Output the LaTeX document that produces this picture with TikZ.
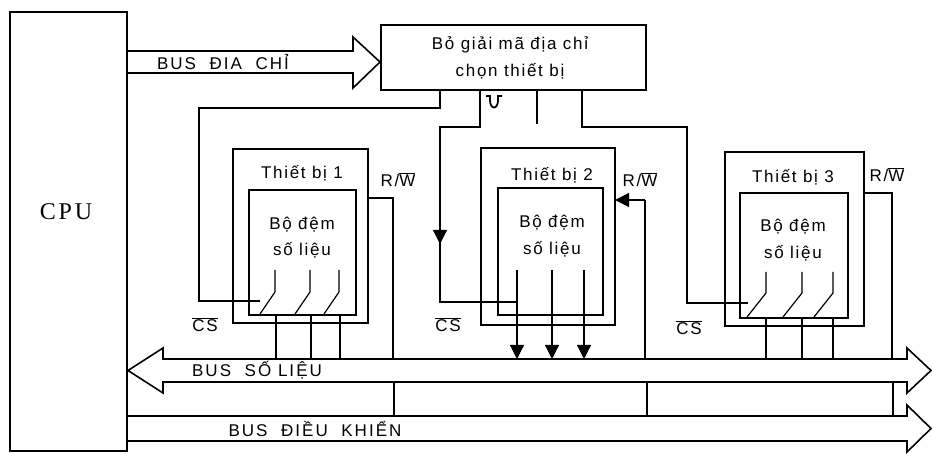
\documentclass[tikz,border=0pt]{standalone}
\usepackage{fontspec}
\setmainfont{Liberation Sans}[LetterSpace=10]
\newfontfamily\cpufont{Liberation Serif}[LetterSpace=12]
\usetikzlibrary{arrows.meta}
\begin{document}
\begin{tikzpicture}[x=1pt,y=-1pt,
  wire/.style={line width=1.2pt},
  busline/.style={line width=1.6pt, line join=miter},
  outerbox/.style={draw, line width=2.2pt},
  innerbox/.style={draw, line width=1.4pt},
  lbl/.style={font=\fontsize{17}{20}\selectfont, inner sep=0pt},
  buslbl/.style={font=\fontsize{17}{20}\selectfont\addfontfeature{LetterSpace=12}, inner sep=0pt},
  tip/.style={-{Triangle[width=14pt,length=14pt]}}]
\useasboundingbox (0,0) rectangle (932,454);
% CPU
\draw[line width=1.5pt] (10,12) rectangle (127,451);
\node[font=\cpufont\fontsize{24}{28}\selectfont, inner sep=0pt] (cpu) at (66,212) {CPU};
% decoder
\draw[line width=2pt] (381,25) rectangle (646,90);
\node[lbl] (dec1) at (510,45) {Bỏ giải mã địa chỉ};
\node[lbl] (dec2) at (510,71) {chọn thiết bị};
% buses
\draw[busline] (127,51) -- (353,51) -- (353,37) -- (380,62) -- (353,88) -- (353,73) -- (127,73);
\node[buslbl] (abus) at (223,62) {BUS~~ĐIA~~CHỈ};
\draw[busline] (128,370.5) -- (163,348) -- (163,359) -- (907,359) -- (907,348) -- (931,370.5)
  -- (907,393) -- (907,382) -- (163,382) -- (163,393) -- cycle;
\node[buslbl] (dbus) at (257,370.5) {BUS~~SỐ LIỆU};
\draw[busline] (127,416) -- (907,416) -- (907,405) -- (931,428.5) -- (907,452) -- (907,441) -- (127,441);
\node[buslbl] (cbus) at (315,429) {BUS~~ĐIỀU~~KHIỂN};
% device 1
\draw[outerbox] (233,149) rectangle (368,323);
\draw[innerbox] (249,190) rectangle (356,315);
\node[lbl] (t1) at (302,173) {Thiết bị 1};
\node[lbl] (b1) at (302,225) {Bộ đệm};
\node[lbl] (s1) at (302,250) {số liệu};
\foreach \xs in {275,310,339}{
  \draw[wire] (\xs,270) -- (\xs,292) -- (\xs-15,314);
  \draw[wire] (\xs+1,315) -- (\xs+1,359);
}
% device 2
\draw[outerbox] (481,148) rectangle (615,325);
\draw[innerbox] (498,188) rectangle (603,315);
\node[lbl] (t2) at (552,175) {Thiết bị 2};
\node[lbl] (b2) at (552,223) {Bộ đệm};
\node[lbl] (s2) at (552,249) {số liệu};
\foreach \xs in {517,552,584}{
  \draw[wire,tip] (\xs,270) -- (\xs,359);
}
% device 3
\draw[outerbox] (725,152) rectangle (864,326);
\draw[innerbox] (740,193) rectangle (848,318);
\node[lbl] (t3) at (793,177) {Thiết bị 3};
\node[lbl] (b3) at (793,227) {Bộ đệm};
\node[lbl] (s3) at (793,253) {số liệu};
\foreach \xs in {766,802,833}{
  \draw[wire] (\xs,272) -- (\xs,293) -- (\xs-19,317);
  \draw[wire] (\xs,318) -- (\xs,359);
}
% chip select lines
\draw[wire] (440,90) -- (440,108) -- (199,108) -- (199,301) -- (260,301);
\draw[wire,tip] (480,90) -- (480,127) -- (440,127) -- (440,244);
\draw[wire] (440,240) -- (440,302) -- (517,302);
\draw[wire] (537,90) -- (537,124);
\draw[wire] (582,90) -- (582,127) -- (687,127) -- (687,303) -- (748,303);
\draw[line width=1.8pt] (486,96) -- (490,96) -- (490,100) .. controls (490,110) and (498,110) .. (498,100) -- (498,96) -- (502,96);
\node[lbl] (cs1) at (205,325) {$\overline{\mbox{CS}}$};
\node[lbl] (cs2) at (448,325) {$\overline{\mbox{CS}}$};
\node[lbl] (cs3) at (689,328) {$\overline{\mbox{CS}}$};
% R/W lines
\draw[wire] (368,198) -- (393,198) -- (393,359);
\draw[wire] (394,382) -- (394,416);
\draw[wire,tip] (645,200) -- (615,200);
\draw[wire] (645,200) -- (645,359);
\draw[wire] (647,382) -- (647,416);
\draw[wire] (864,193) -- (892,193) -- (892,359);
\draw[wire] (893,382) -- (893,416);
\node[lbl] (rw1) at (398,180) {R/$\overline{\mbox{W}}$};
\node[lbl] (rw2) at (640,180) {R/$\overline{\mbox{W}}$};
\node[lbl] (rw3) at (887,175) {R/$\overline{\mbox{W}}$};
\end{tikzpicture}
\end{document}
